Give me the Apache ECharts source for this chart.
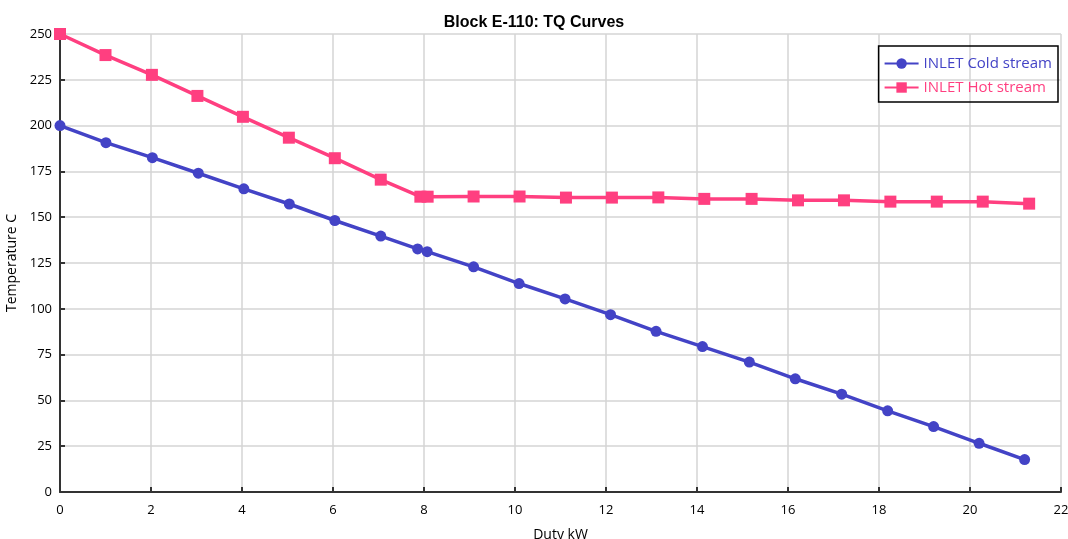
<!DOCTYPE html>
<html><head><meta charset="utf-8">
<script src="https://cdn.jsdelivr.net/npm/echarts@6/dist/echarts.min.js"></script>
<style>html,body{margin:0;padding:0;background:#fff}#c{width:1068px;height:539px}</style>
</head><body><div id="c"></div>
<script>
var coldDuty = [0, 1.01, 2.03, 3.04, 4.04, 5.04, 6.04, 7.05, 7.86, 8.07, 9.09, 10.09, 11.1, 12.1, 13.1, 14.12, 15.15, 16.16, 17.18, 18.19, 19.2, 20.2, 21.2];
var coldTemp = [200, 190.7, 182.5, 174.0, 165.5, 157.2, 148.2, 139.7, 132.7, 131.2, 122.9, 113.8, 105.4, 96.8, 87.7, 79.4, 70.9, 61.8, 53.4, 44.3, 35.7, 26.6, 17.7];
var hotDuty = [0, 1.0, 2.02, 3.02, 4.02, 5.03, 6.04, 7.05, 7.92, 8.08, 9.09, 10.1, 11.12, 12.13, 13.15, 14.16, 15.2, 16.22, 17.23, 18.25, 19.27, 20.28, 21.3];
var hotTemp = [250, 238.5, 227.7, 216.2, 204.8, 193.4, 182.2, 170.5, 161.2, 161.2, 161.3, 161.3, 160.7, 160.7, 160.8, 160.0, 160.0, 159.2, 159.2, 158.5, 158.5, 158.5, 157.4];
var xTicks = [0, 22, 2];
var yTicks = [0, 250, 25];

var coldColor = '#4343c6', hotColor = '#ff3f80';
function pairs(xs, ys){ return xs.map(function(x,i){return [x, ys[i]];}); }
var FONT = 'Open Sans';

var chart = echarts.init(document.getElementById('c'));
chart.setOption({
  animation: false,
  backgroundColor: '#fff',
  title: { text: 'Block E-110: TQ Curves', left: 'center', top: 10,
    textStyle: { fontFamily: 'Liberation Sans', fontSize: 16, fontWeight: 'bold', color: '#000' } },
  grid: { left: 60, right: 7, top: 34, bottom: 47, containLabel: false, outerBoundsMode: 'none' },
  legend: {
    orient: 'vertical', right: 10, top: 46,
    borderColor: '#000', borderWidth: 1.5, padding: [10, 6, 7, 5],
    itemGap: 9, itemWidth: 34, itemHeight: 13,
    textStyle: { fontFamily: FONT, fontSize: 15 },
    data: [
      { name: 'INLET Cold stream', textStyle: { color: coldColor } },
      { name: 'INLET Hot stream', textStyle: { color: hotColor } }
    ]
  },
  xAxis: {
    type: 'value', min: xTicks[0], max: xTicks[1], interval: xTicks[2],
    name: 'Duty kW', nameLocation: 'middle', nameGap: 36,
    nameTextStyle: { fontFamily: FONT, fontSize: 14, color: '#000' },
    axisLine: { show: true, lineStyle: { color: '#333', width: 2 } },
    axisTick: { show: true, inside: true, length: 5, lineStyle: { color: '#333', width: 2 } },
    axisLabel: { fontFamily: FONT, fontSize: 13, color: '#000', margin: 12 },
    splitLine: { show: true, lineStyle: { color: '#d4d4d4', width: 1.5 } }
  },
  yAxis: {
    type: 'value', min: yTicks[0], max: yTicks[1], interval: yTicks[2],
    name: 'Temperature C', nameLocation: 'middle', nameGap: 35,
    nameTextStyle: { fontFamily: FONT, fontSize: 14, color: '#000' },
    axisLine: { show: true, lineStyle: { color: '#333', width: 2 } },
    axisTick: { show: true, inside: true, length: 5, lineStyle: { color: '#333', width: 2 } },
    axisLabel: { fontFamily: FONT, fontSize: 13, color: '#000', margin: 8 },
    splitLine: { show: true, lineStyle: { color: '#d4d4d4', width: 1.5 } }
  },
  series: [
    { name: 'INLET Cold stream', type: 'line', data: pairs(coldDuty, coldTemp),
      symbol: 'circle', symbolSize: 11, showAllSymbol: true,
      lineStyle: { color: coldColor, width: 3.5 }, itemStyle: { color: coldColor } },
    { name: 'INLET Hot stream', type: 'line', data: pairs(hotDuty, hotTemp),
      symbol: 'rect', symbolSize: 12, showAllSymbol: true,
      lineStyle: { color: hotColor, width: 3.5 }, itemStyle: { color: hotColor } }
  ]
});
</script></body></html>
